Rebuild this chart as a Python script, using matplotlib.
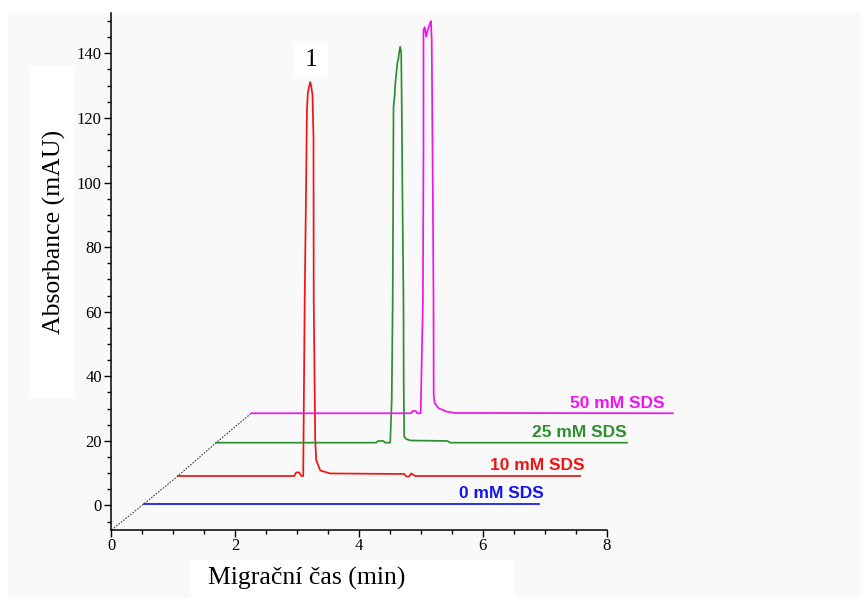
import numpy as np
import matplotlib.pyplot as plt
import matplotlib.ticker as mticker
from matplotlib.patches import Rectangle

# Electropherograms at each SDS concentration (time in min, absorbance in mAU),
# already stacked as a waterfall
t_0mM = [0.517, 6.910]
a_0mM = [0.37, 0.37]

t_10mM = [1.073, 2.952, 2.984, 3.032, 3.065, 3.097, 3.121, 3.141, 3.157, 3.173,
          3.210, 3.226, 3.247, 3.263, 3.267, 3.291, 3.307, 3.372, 3.533, 4.729,
          4.761, 4.809, 4.842, 4.906, 7.572]
a_10mM = [9.13, 9.13, 10.22, 10.22, 9.13, 9.13, 63.62, 94.58, 122.45, 128.02,
          131.11, 129.88, 127.09, 114.09, 63.62, 20.28, 14.09, 10.84, 9.91, 9.75,
          8.98, 8.98, 9.91, 9.13, 9.13]

t_25mM = [1.691, 4.276, 4.309, 4.390, 4.422, 4.503, 4.527, 4.543, 4.556, 4.575,
          4.583, 4.620, 4.632, 4.648, 4.664, 4.680, 4.688, 4.701, 4.717, 4.720,
          4.729, 4.761, 4.826, 5.423, 5.472, 8.326]
a_25mM = [19.44, 19.44, 19.97, 19.97, 19.44, 19.44, 32.66, 63.62, 123.47, 127.09,
          130.19, 137.40, 137.93, 140.40, 142.04, 140.40, 125.54, 94.58, 63.62, 38.85,
          21.30, 20.59, 20.12, 19.97, 19.44, 19.44]

t_50mM = [2.257, 4.842, 4.866, 4.914, 4.939, 4.995, 5.031, 5.040, 5.040, 5.060,
          5.084, 5.108, 5.141, 5.160, 5.173, 5.192, 5.202, 5.205, 5.221, 5.278,
          5.407, 5.553, 9.069]
a_50mM = [28.54, 28.54, 29.26, 29.26, 28.54, 28.54, 63.62, 110.06, 147.21, 148.14,
          145.14, 147.21, 149.07, 150.00, 144.12, 94.58, 63.62, 34.21, 31.73, 30.19,
          29.10, 28.64, 28.54]

labels = ['0 mM SDS', '10 mM SDS', '25 mM SDS', '50 mM SDS']
colors = ['#1414f0', '#f01414', '#2e8f2e', '#f014f0']
traces = [(t_0mM, a_0mM), (t_10mM, a_10mM), (t_25mM, a_25mM), (t_50mM, a_50mM)]
label_dx = [3, 3, 0, -6]   # points, horizontal nudge of each trace label

W, H = 867, 606
fig = plt.figure(figsize=(W / 100, H / 100), dpi=100)
fig.patch.set_facecolor('white')


def px_rect(x0, y0, x1, y1, color, z):
    # rectangle given in pixel coords (origin top-left)
    fig.add_artist(Rectangle((x0 / W, 1 - y1 / H), (x1 - x0) / W, (y1 - y0) / H,
                             transform=fig.transFigure, facecolor=color,
                             edgecolor='none', zorder=z))


px_rect(8, 13, 860, 598, '#f9f9f9', -2)
px_rect(31, 66, 75, 398, 'white', -1)      # behind y label
px_rect(191, 560, 515, 606, 'white', -1)   # behind x label

ax = fig.add_axes([111.5 / W, 1 - 530 / H, (606.7 - 111.5) / W, (530 - 13.3) / H])
ax.patch.set_visible(False)

serif = ['Liberation Serif', 'DejaVu Serif']
sans = ['Liberation Sans', 'DejaVu Sans']

for (t, a), c, lab, dx in zip(traces, colors, labels, label_dx):
    ax.plot(t, a, color=c, lw=1.25, clip_on=False, zorder=3)
    ax.annotate(lab, xy=(t[-1], a[-1]), xytext=(dx, 2), textcoords='offset points',
                ha='right', va='bottom', color=c, fontsize=12.5, fontweight='bold',
                family=sans, annotation_clip=False)

# dotted guide joining the axis corner to the start of each trace
y_lo, y_hi = -7.6, 152.4
guide_x = [0] + [t[0] for t, a in traces]
guide_y = [y_lo] + [a[0] for t, a in traces]
ax.plot(guide_x, guide_y, color='#444444', lw=0.8, ls=(0, (1.5, 1.2)),
        clip_on=False, zorder=2)

# peak number above the 10 mM SDS peak
i_pk = int(np.argmax(a_10mM))
pk_x, pk_y = t_10mM[i_pk] + 0.02, 137.8
ax.add_patch(Rectangle((pk_x - 0.275, pk_y - 4.95), 0.55, 9.9, facecolor='white',
                       edgecolor='none', clip_on=False, zorder=1))
ax.text(pk_x, pk_y, '1', ha='center', va='center', fontsize=18.5, family=serif,
        zorder=4)

ax.set_xlim(0, 8)
ax.set_ylim(y_lo, y_hi)
ax.spines['top'].set_visible(False)
ax.spines['right'].set_visible(False)
for s in ('left', 'bottom'):
    ax.spines[s].set_linewidth(1.1)

ax.xaxis.set_major_locator(mticker.MultipleLocator(2))
ax.xaxis.set_minor_locator(mticker.MultipleLocator(0.5))
ax.yaxis.set_major_locator(mticker.FixedLocator(np.arange(0, 141, 20)))
ax.yaxis.set_minor_locator(mticker.FixedLocator(np.arange(-5, 151, 5)))
ax.tick_params(which='major', length=5, width=1.0, direction='out')
ax.tick_params(which='minor', length=3, width=1.0, direction='out')
ax.tick_params(axis='x', pad=1)
ax.tick_params(axis='y', pad=2)
for lbl in ax.get_xticklabels() + ax.get_yticklabels():
    lbl.set_family(serif)
    lbl.set_fontsize(12)

fig.text(54 / W, 1 - 232 / H, 'Absorbance (mAU)', rotation=90, ha='center',
         va='center', fontsize=18.5, family=serif)
fig.text(306.5 / W, 1 - 578 / H, 'Migrační čas (min)', ha='center', va='center',
         fontsize=18.5, family=serif)

fig.savefig('out.png', dpi=100)
